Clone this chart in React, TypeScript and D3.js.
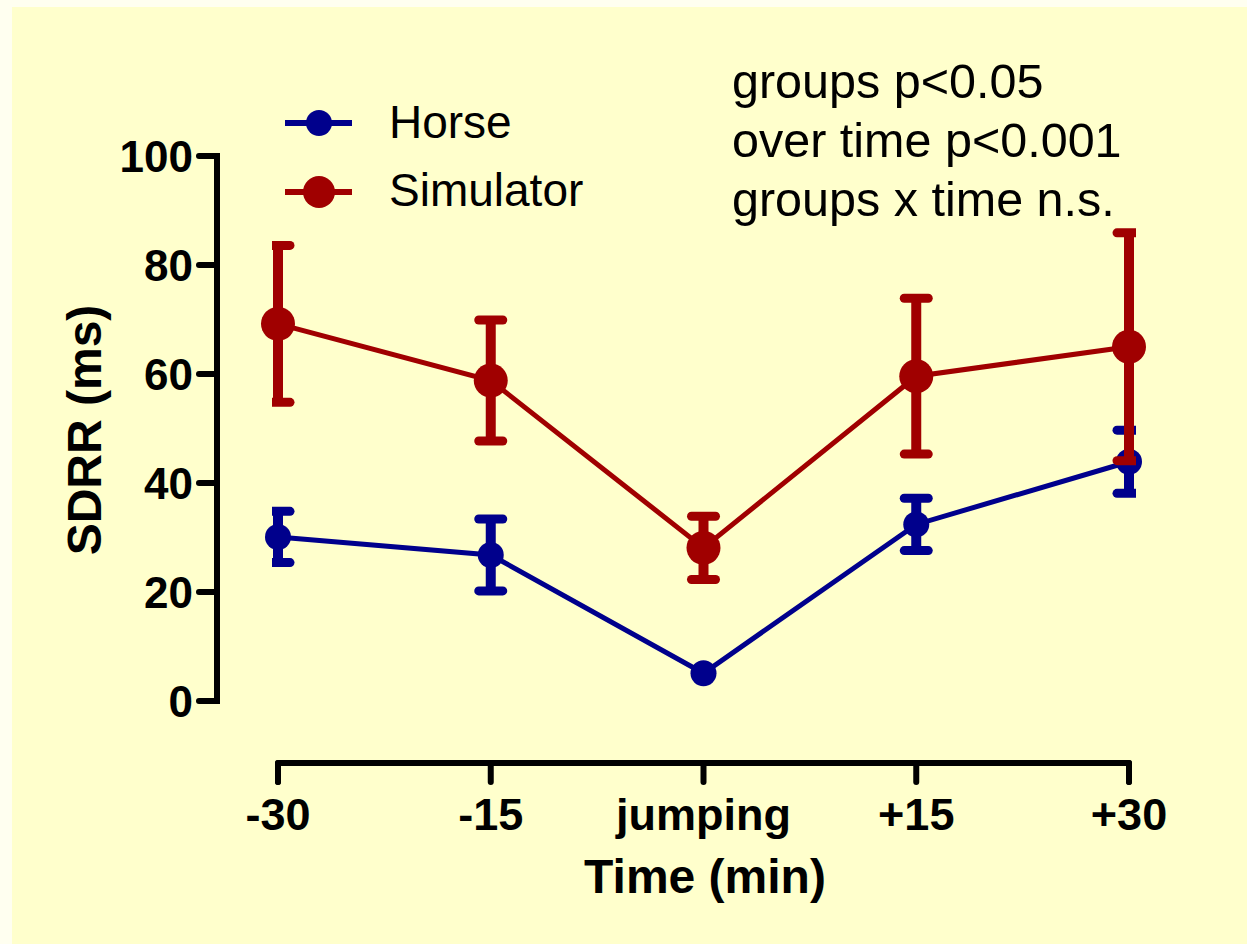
import React from "react";
import * as d3 from "d3";

const categories = ["-30", "-15", "jumping", "+15", "+30"];
const horseMean = [30.1, 26.8, 5.1, 32.4, 43.9];
const horseErr = [4.7, 6.6, 0.8, 4.8, 5.8];
const simMean = [69.2, 58.8, 28.1, 59.6, 65.0];
const simErr = [14.4, 11.1, 5.8, 14.3, 20.9];
const yTicks = [0, 20, 40, 60, 80, 100];
const seriesNames = ["Horse", "Simulator"];
const annotations = ["groups p<0.05", "over time p<0.001", "groups x time n.s."];

const FONT = "'Liberation Sans', Arial, Helvetica, sans-serif";
const BLUE = "#00008c";
const RED = "#a00000";

export default function App() {
  const W = 1247;
  const H = 944;
  const x = d3.scalePoint<string>().domain(categories).range([278, 1129]);
  const y = d3.scaleLinear().domain([0, 100]).range([701, 156]);

  const line = d3
    .line<number>()
    .x((_, i) => x(categories[i]) as number)
    .y((d) => y(d));

  const series = [
    { name: seriesNames[0], mean: horseMean, err: horseErr, color: BLUE, r: 13 },
    { name: seriesNames[1], mean: simMean, err: simErr, color: RED, r: 17 },
  ];

  const x0 = x(categories[0]) as number;
  const x1 = x(categories[categories.length - 1]) as number;

  return (
    <svg
      width={W}
      height={H}
      style={{ position: "absolute", left: 0, top: 0 }}
      fontFamily={FONT}
    >
      <defs>
        <clipPath id="plotclip">
          <rect x={x0 - 6} y={0} width={x1 - x0 + 13} height={H} />
        </clipPath>
      </defs>
      <rect x={0} y={0} width={W} height={H} fill="#fffff0" />
      <rect x={12} y={7} width={W - 12} height={H - 7} fill="#ffffcc" />

      {/* Y axis */}
      <g>
        <line x1={217} x2={217} y1={y(100) - 3} y2={y(0) + 3} stroke="#000" strokeWidth={6} />
        {yTicks.map((t) => (
          <g key={t}>
            <line x1={199} x2={217} y1={y(t)} y2={y(t)} stroke="#000" strokeWidth={6} strokeLinecap="round" />
            <text x={193} y={y(t)} dy="0.36em" textAnchor="end" fontSize={44} fontWeight="bold">
              {t}
            </text>
          </g>
        ))}
      </g>

      {/* X axis */}
      <g>
        <path
          d={`M${x0},782 L${x0},763 L${x1},763 L${x1},782`}
          fill="none"
          stroke="#000"
          strokeWidth={6}
          strokeLinejoin="round"
          strokeLinecap="round"
        />
        {categories.map((c) => (
          <g key={c}>
            <line x1={x(c)} x2={x(c)} y1={763} y2={782} stroke="#000" strokeWidth={6} strokeLinecap="round" />
            <text x={x(c)} y={830} textAnchor="middle" fontSize={45} fontWeight="bold">
              {c}
            </text>
          </g>
        ))}
      </g>

      {/* Axis titles */}
      <text x={705} y={893} textAnchor="middle" fontSize={48} fontWeight="bold">
        Time (min)
      </text>
      <text
        transform={`translate(101,430) rotate(-90)`}
        textAnchor="middle"
        fontSize={48}
        fontWeight="bold"
      >
        SDRR (ms)
      </text>

      {/* Series */}
      {series.map((s) => (
        <g key={s.name}>
          <path d={line(s.mean) || ""} fill="none" stroke={s.color} strokeWidth={5} />
          <g clipPath="url(#plotclip)">
            {s.mean.map((m, i) => {
              const cx = x(categories[i]) as number;
              const yt = y(m + s.err[i]);
              const yb = y(m - s.err[i]);
              if (y(m) - yt < s.r) return null;
              return (
                <g key={i}>
                  <line x1={cx} x2={cx} y1={yt} y2={yb} stroke={s.color} strokeWidth={10} />
                  <line x1={cx - 12} x2={cx + 12} y1={yt} y2={yt} stroke={s.color} strokeWidth={9} strokeLinecap="round" />
                  <line x1={cx - 12} x2={cx + 12} y1={yb} y2={yb} stroke={s.color} strokeWidth={9} strokeLinecap="round" />
                </g>
              );
            })}
          </g>
          {s.mean.map((m, i) => (
            <circle key={i} cx={x(categories[i])} cy={y(m)} r={s.r} fill={s.color} />
          ))}
        </g>
      ))}

      {/* Legend */}
      {series.map((s, i) => {
        const ly = i === 0 ? 123 : 192;
        const ty = i === 0 ? 138 : 206;
        return (
          <g key={s.name}>
            <line x1={285} x2={352} y1={ly} y2={ly} stroke={s.color} strokeWidth={6} />
            <circle cx={319} cy={ly} r={i === 0 ? 13 : 16} fill={s.color} />
            <text x={389} y={ty} fontSize={46}>
              {s.name}
            </text>
          </g>
        );
      })}

      {/* Annotations */}
      {annotations.map((a, i) => (
        <text key={a} x={732} y={98 + i * 59} fontSize={48.5}>
          {a}
        </text>
      ))}
    </svg>
  );
}
